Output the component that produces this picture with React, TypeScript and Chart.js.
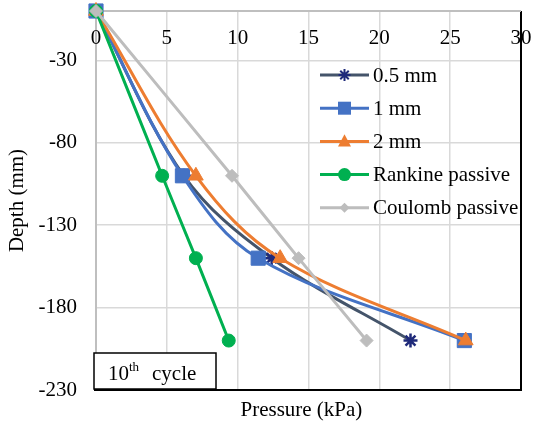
import React, { useEffect, useRef } from "react";
import { Chart, registerables } from "chart.js";

Chart.register(...registerables);

const seriesNames = ["0.5 mm", "1 mm", "2 mm", "Rankine passive", "Coulomb passive"];
const depths = [0, -100, -150, -200];
const pressure05 = [0, 6.2, 12.4, 22.2];
const pressure1 = [0, 6.1, 11.45, 26.0];
const pressure2 = [0, 7.05, 13.0, 26.1];
const rankine = [0, 4.67, 7.05, 9.37];
const coulomb = [0, 9.6, 14.3, 19.1];
const yTickValues = [-230, -180, -130, -80, -30];
const xTickValues = [0, 5, 10, 15, 20, 25, 30];
const xTitle = "Pressure (kPa)";
const yTitle = "Depth (mm)";
const boxLabelMain = "10";
const boxLabelSup = "th";
const boxLabelRest = "cycle";

const FONT = "'Liberation Serif', 'Times New Roman', serif";

const lineColors = ["#44546A", "#4472C4", "#ED7D31", "#00B050", "#BDBDBD"];
const markerColors = ["#1F2A7A", "#4472C4", "#ED7D31", "#00B050", "#BDBDBD"];
const markerStyles = ["star", "rect", "triangle", "circle", "rectRot"];
const markerRadius = [7, 10, 8.5, 6.5, 6.5];

export default function App() {
  const ref = useRef<HTMLCanvasElement | null>(null);

  useEffect(() => {
    if (!ref.current) return;
    const allSeries = [pressure05, pressure1, pressure2, rankine, coulomb];
    const datasets = allSeries.map((vals, i) => ({
      label: seriesNames[i],
      data: vals.map((v, j) => ({ x: v, y: depths[j] })),
      borderColor: lineColors[i],
      backgroundColor: markerColors[i],
      pointBackgroundColor: markerColors[i],
      pointBorderColor: markerColors[i],
      pointBorderWidth: i === 0 ? 2.5 : 1,
      pointStyle: markerStyles[i],
      pointRadius: markerRadius[i],
      borderWidth: 3,
      tension: 0.35,
      showLine: true,
      clip: false as any,
      order: 10 - i,
      xAxisID: "x",
      yAxisID: "y",
    }));

    const framePlugin = {
      id: "frame",
      beforeDatasetsDraw(chart: any) {
        const { ctx, chartArea: a } = chart;
        ctx.save();
        ctx.strokeStyle = "#000000";
        ctx.lineWidth = 2;
        ctx.beginPath();
        ctx.moveTo(a.right, a.top);
        ctx.lineTo(a.right, a.bottom);
        ctx.lineTo(a.left, a.bottom);
        ctx.stroke();
        ctx.strokeStyle = "#BFBFBF";
        ctx.beginPath();
        ctx.moveTo(a.left, a.bottom);
        ctx.lineTo(a.left, a.top);
        ctx.lineTo(a.right, a.top);
        ctx.stroke();
        const xs = chart.scales.x;
        ctx.fillStyle = "#000000";
        ctx.font = `21px ${FONT}`;
        ctx.textBaseline = "middle";
        ctx.textAlign = "center";
        xTickValues.forEach((v) => {
          ctx.fillText(String(v), xs.getPixelForValue(v), a.top + 27);
        });
        ctx.fillText(xTitle, xs.getPixelForValue(14.5), a.bottom + 20);
        ctx.restore();
      },
      afterDraw(chart: any) {
        const { ctx, chartArea: a } = chart;
        ctx.save();
        const rowY0 = 75;
        const rowGap = 33.2;
        const lx0 = 320;
        const lx1 = 369;
        chart.data.datasets.forEach((ds: any, i: number) => {
          const y = rowY0 + i * rowGap;
          ctx.strokeStyle = lineColors[i];
          ctx.lineWidth = 3;
          ctx.beginPath();
          ctx.moveTo(lx0, y);
          ctx.lineTo(lx1, y);
          ctx.stroke();
          ctx.fillStyle = markerColors[i];
          ctx.strokeStyle = markerColors[i];
          ctx.lineWidth = i === 0 ? 2 : 1;
          drawMarker(ctx, markerStyles[i], (lx0 + lx1) / 2, y, i === 0 ? 6 : i === 4 ? 5 : 6.5);
          ctx.fillStyle = "#000000";
          ctx.font = `21px ${FONT}`;
          ctx.textBaseline = "middle";
          ctx.textAlign = "left";
          ctx.fillText(ds.label, 373, y + 1);
        });
        const bx = 94, by = 353, bw = 122, bh = 36;
        ctx.fillStyle = "#FFFFFF";
        ctx.fillRect(bx, by, bw, bh);
        ctx.strokeStyle = "#000000";
        ctx.lineWidth = 1.5;
        ctx.strokeRect(bx, by, bw, bh);
        ctx.fillStyle = "#000000";
        ctx.textBaseline = "alphabetic";
        ctx.textAlign = "left";
        ctx.font = `21px ${FONT}`;
        ctx.fillText(boxLabelMain, 108, 380);
        const w1 = ctx.measureText(boxLabelMain).width;
        ctx.font = `13px ${FONT}`;
        ctx.fillText(boxLabelSup, 108 + w1, 371);
        ctx.font = `21px ${FONT}`;
        ctx.fillText(boxLabelRest, 152, 380);
        ctx.lineWidth = 2;
        ctx.beginPath();
        ctx.moveTo(a.left - 2, a.bottom);
        ctx.lineTo(a.right, a.bottom);
        ctx.stroke();
        ctx.restore();
      },
    };

    const chart = new Chart(ref.current, {
      type: "scatter",
      data: { datasets: datasets as any },
      plugins: [framePlugin],
      options: {
        animation: false,
        responsive: false,
        maintainAspectRatio: false,
        layout: { padding: { left: 0, right: 14, top: 0, bottom: 0 } },
        plugins: {
          legend: { display: false },
          tooltip: { enabled: false },
          title: { display: false },
        },
        scales: {
          x: {
            type: "linear",
            position: "top",
            min: 0,
            max: 30,
            afterBuildTicks: (s: any) => {
              s.ticks = xTickValues.map((v) => ({ value: v }));
            },
            afterFit: (s: any) => {
              s.height = 10;
              s.paddingLeft = 0;
              s.paddingRight = 0;
            },
            ticks: { display: false },
            grid: { color: "#D9D9D9", lineWidth: 1.5, drawTicks: false },
            border: { display: false },
          },
          x2: {
            type: "linear",
            position: "bottom",
            min: 0,
            max: 30,
            afterFit: (s: any) => {
              s.height = 39;
              s.paddingLeft = 0;
              s.paddingRight = 0;
            },
            ticks: { display: false },
            grid: { display: false, drawTicks: false },
            border: { display: false },
          },
          y: {
            type: "linear",
            position: "left",
            min: -230,
            max: 0,
            afterBuildTicks: (s: any) => {
              s.ticks = yTickValues.map((v) => ({ value: v }));
            },
            afterFit: (s: any) => {
              s.width = 96;
              s.paddingTop = 0;
              s.paddingBottom = 0;
            },
            ticks: {
              padding: 19,
              color: "#000000",
              font: { family: FONT, size: 21 },
            },
            grid: { color: "#D9D9D9", lineWidth: 1.5, drawTicks: false },
            border: { display: false },
            title: {
              display: true,
              text: yTitle,
              color: "#000000",
              font: { family: FONT, size: 21 },
              padding: { top: 5, bottom: 0 },
            },
          },
        },
      },
    });
    return () => chart.destroy();
  }, []);

  return (
    <div style={{ position: "fixed", left: 0, top: 0, width: 535, height: 429, background: "#FFFFFF" }}>
      <canvas ref={ref} width={535} height={429} style={{ width: 535, height: 429, display: "block" }} />
    </div>
  );
}

function drawMarker(ctx: CanvasRenderingContext2D, style: string, x: number, y: number, r: number) {
  ctx.beginPath();
  if (style === "rect") {
    ctx.rect(x - r, y - r, 2 * r, 2 * r);
    ctx.fill();
  } else if (style === "triangle") {
    ctx.moveTo(x, y - r * 1.1);
    ctx.lineTo(x + r, y + r * 0.8);
    ctx.lineTo(x - r, y + r * 0.8);
    ctx.closePath();
    ctx.fill();
  } else if (style === "circle") {
    ctx.arc(x, y, r, 0, Math.PI * 2);
    ctx.fill();
  } else if (style === "rectRot") {
    ctx.moveTo(x, y - r);
    ctx.lineTo(x + r, y);
    ctx.lineTo(x, y + r);
    ctx.lineTo(x - r, y);
    ctx.closePath();
    ctx.fill();
  } else if (style === "star") {
    for (let k = 0; k < 4; k++) {
      const ang = (k * Math.PI) / 4;
      ctx.moveTo(x + Math.cos(ang) * r, y + Math.sin(ang) * r);
      ctx.lineTo(x - Math.cos(ang) * r, y - Math.sin(ang) * r);
    }
    ctx.stroke();
  }
}
